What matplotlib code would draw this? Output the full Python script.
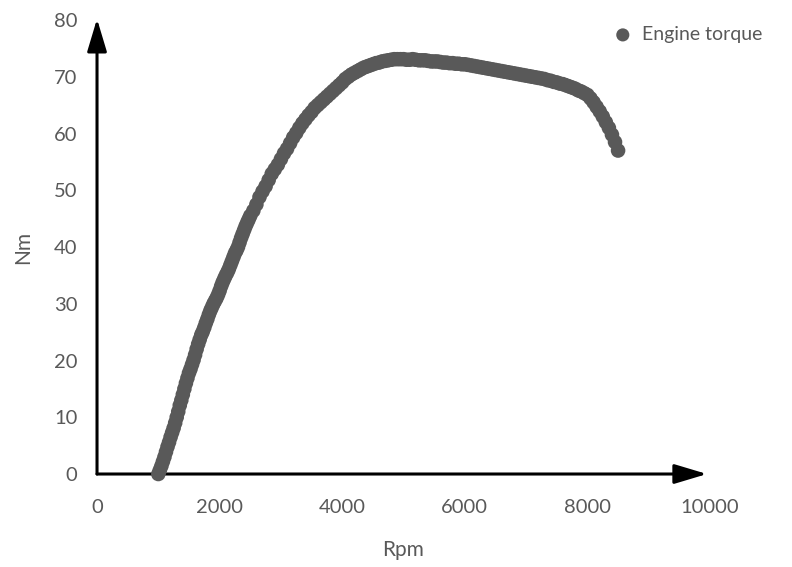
import numpy as np
import matplotlib.pyplot as plt

# Engine torque curve (rpm vs Nm)
rpm = [1000, 1025, 1050, 1075, 1100, 1125, 1150, 1175, 1200, 1225,
       1250, 1275, 1300, 1325, 1350, 1375, 1400, 1425, 1450, 1475,
       1500, 1525, 1550, 1575, 1600, 1625, 1650, 1675, 1700, 1725,
       1750, 1775, 1800, 1825, 1850, 1875, 1900, 1925, 1950, 1975,
       2000, 2025, 2050, 2075, 2100, 2125, 2150, 2175, 2200, 2225,
       2250, 2275, 2300, 2325, 2350, 2375, 2400, 2425, 2450, 2475,
       2500, 2550, 2600, 2650, 2700, 2750, 2800, 2850, 2900, 2950,
       3000, 3050, 3100, 3150, 3200, 3250, 3300, 3350, 3400, 3450,
       3500, 3550, 3600, 3650, 3700, 3750, 3800, 3850, 3900, 3950,
       4000, 4050, 4100, 4150, 4200, 4250, 4300, 4350, 4400, 4450,
       4500, 4550, 4600, 4650, 4700, 4750, 4800, 4850, 4900, 4950,
       5000, 5050, 5100, 5150, 5200, 5250, 5300, 5350, 5400, 5450,
       5500, 5550, 5600, 5650, 5700, 5750, 5800, 5850, 5900, 5950,
       6000, 6050, 6100, 6150, 6200, 6250, 6300, 6350, 6400, 6450,
       6500, 6550, 6600, 6650, 6700, 6750, 6800, 6850, 6900, 6950,
       7000, 7050, 7100, 7150, 7200, 7250, 7300, 7350, 7400, 7450,
       7500, 7550, 7600, 7650, 7700, 7750, 7800, 7850, 7900, 7950,
       8000, 8050, 8100, 8150, 8200, 8250, 8300, 8350, 8400, 8450,
       8500]
torque = [0.0, 0.7, 1.4, 2.2, 3.0, 3.9, 4.8, 5.6, 6.5, 7.3,
          8.1, 9.0, 10.0, 11.0, 12.1, 13.0, 14.0, 15.0, 16.0, 16.9,
          17.8, 18.5, 19.3, 20.1, 21.0, 22.0, 22.9, 23.7, 24.5, 25.1,
          25.8, 26.6, 27.3, 28.1, 28.8, 29.4, 30.0, 30.5, 31.0, 31.6,
          32.3, 33.1, 33.8, 34.4, 35.0, 35.5, 36.1, 36.8, 37.5, 38.2,
          38.9, 39.4, 40.0, 40.8, 41.6, 42.3, 43.0, 43.7, 44.3, 44.9,
          45.5, 46.4, 47.5, 48.8, 49.8, 50.7, 51.8, 52.9, 53.7, 54.5,
          55.5, 56.5, 57.3, 58.3, 59.3, 60.1, 61.0, 61.8, 62.5, 63.2,
          63.8, 64.5, 65.0, 65.5, 66.0, 66.5, 67.0, 67.5, 68.0, 68.5,
          69.0, 69.6, 70.0, 70.4, 70.7, 71.0, 71.3, 71.6, 71.8, 72.0,
          72.2, 72.4, 72.5, 72.7, 72.8, 72.9, 73.0, 73.1, 73.1, 73.1,
          73.1, 73.0, 73.0, 73.1, 73.0, 72.9, 72.9, 72.9, 72.8, 72.7,
          72.7, 72.7, 72.6, 72.5, 72.5, 72.4, 72.4, 72.3, 72.3, 72.2,
          72.2, 72.1, 72.0, 71.9, 71.8, 71.7, 71.6, 71.5, 71.4, 71.3,
          71.2, 71.1, 71.0, 70.9, 70.8, 70.7, 70.6, 70.5, 70.4, 70.3,
          70.2, 70.1, 70.0, 69.9, 69.8, 69.7, 69.6, 69.4, 69.3, 69.1,
          69.0, 68.8, 68.7, 68.5, 68.3, 68.1, 67.9, 67.6, 67.4, 67.1,
          66.8, 66.2, 65.5, 64.7, 63.9, 63.0, 62.0, 61.0, 59.8, 58.5,
          57.0]

xticks = [0, 2000, 4000, 6000, 8000, 10000]
yticks = [0, 10, 20, 30, 40, 50, 60, 70, 80]

grey = '#595959'
plt.rcParams['font.family'] = ['Lato', 'DejaVu Sans']

fig = plt.figure(figsize=(7.92, 5.67), dpi=100)
ax = fig.add_axes([0.1225, 0.164, 0.774, 0.8007])

ax.scatter(rpm, torque, s=110, color=grey, edgecolors='none', zorder=3,
           label='Engine torque', clip_on=False)

ax.set_xlim(0, 10000)
ax.set_ylim(0, 80)
ax.set_xticks(xticks)
ax.set_yticks(yticks)
for s in ax.spines.values():
    s.set_visible(False)
ax.tick_params(length=0, labelsize=14.5, colors=grey)
ax.tick_params(axis='x', pad=18)
ax.tick_params(axis='y', pad=14)

# axes drawn as arrows
arrow = dict(arrowstyle='-|>,head_length=1.0,head_width=0.3', color='black',
             lw=2.2, mutation_scale=20, shrinkA=0, shrinkB=0)
ax.annotate('', xy=(9950, 0), xytext=(0, 0), arrowprops=arrow,
            annotation_clip=False, zorder=2)
ax.annotate('', xy=(0, 80.2), xytext=(0, 0), arrowprops=arrow,
            annotation_clip=False, zorder=2)

ax.set_xlabel('Rpm', fontsize=15, color=grey, labelpad=17)
ax.set_ylabel('Nm', fontsize=15, color=grey, labelpad=15)

fig.legend(loc='upper right', bbox_to_anchor=(0.985, 0.985), frameon=False,
           fontsize=14, labelcolor=grey, handletextpad=0.0,
           markerscale=0.9)

fig.savefig('out.png', dpi=100)
